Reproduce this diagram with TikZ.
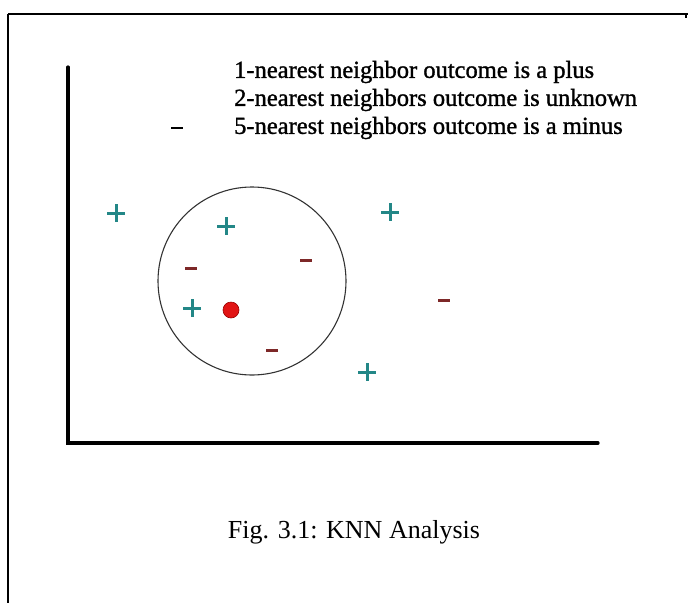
\documentclass[tikz,border=0pt]{standalone}
\usepackage{fontspec}
\setmainfont{Liberation Serif}
\newfontfamily\legendfont[FakeBold=1.2]{Liberation Serif}
\definecolor{plusteal}{RGB}{35,135,135}
\definecolor{minusred}{RGB}{125,40,40}
\definecolor{dotred}{RGB}{225,20,20}
\begin{document}
\begin{tikzpicture}[x=1pt,y=-1pt,
  plusmark/.style={draw=plusteal, line width=3pt},
  minusmark/.style={draw=minusred, line width=3pt},
  axisline/.style={line width=3.2pt, line cap=round},
  legend/.style={anchor=west, font=\legendfont\fontsize{24.5}{28}\selectfont, inner sep=0pt}]
\useasboundingbox (0,0) rectangle (688,603);
% frame
\draw[line width=1.6pt] (8,14) -- (688,14);
\draw[line width=1.6pt] (8,14) -- (8,603);
\draw[line width=1.6pt] (686,14) -- (686,18);
% axes
\coordinate (ytop) at (68,67);
\coordinate (orig) at (68,443);
\coordinate (xend) at (598,443);
\draw[axisline] (ytop) -- (orig) -- (xend);
% legend text
\node[legend] (t1) at (234,72) {1-nearest neighbor outcome is a plus};
\node[legend] (t2) at (234,100) {2-nearest neighbors outcome is unknown};
\node[legend] (t3) at (234,128) {5-nearest neighbors outcome is a minus};
\draw[line width=2.6pt] (171,128) -- (183,128);
% circle
\node[draw=black!80, line width=1.1pt, circle, minimum size=188pt, inner sep=0pt] (c) at (252,281) {};
% pluses
\foreach \x/\y in {116/213, 226/226, 390/212, 192/308, 367/372}{
  \draw[plusmark] (\x-9,\y) -- (\x+9,\y);
  \draw[plusmark] (\x,\y-9) -- (\x,\y+9);
}
% minuses
\foreach \x/\y in {191/268, 306/260, 444/300, 272/350}{
  \draw[minusmark] (\x-6,\y) -- (\x+6,\y);
}
% query point
\node[circle, fill=dotred, draw=red!60!black, line width=0.6pt, minimum size=16pt, inner sep=0pt] (q) at (231,310) {};
% caption
\node[font=\fontsize{26}{30}\selectfont] (cap) at (354,532) {Fig. 3.1: KNN Analysis};
\end{tikzpicture}
\end{document}
